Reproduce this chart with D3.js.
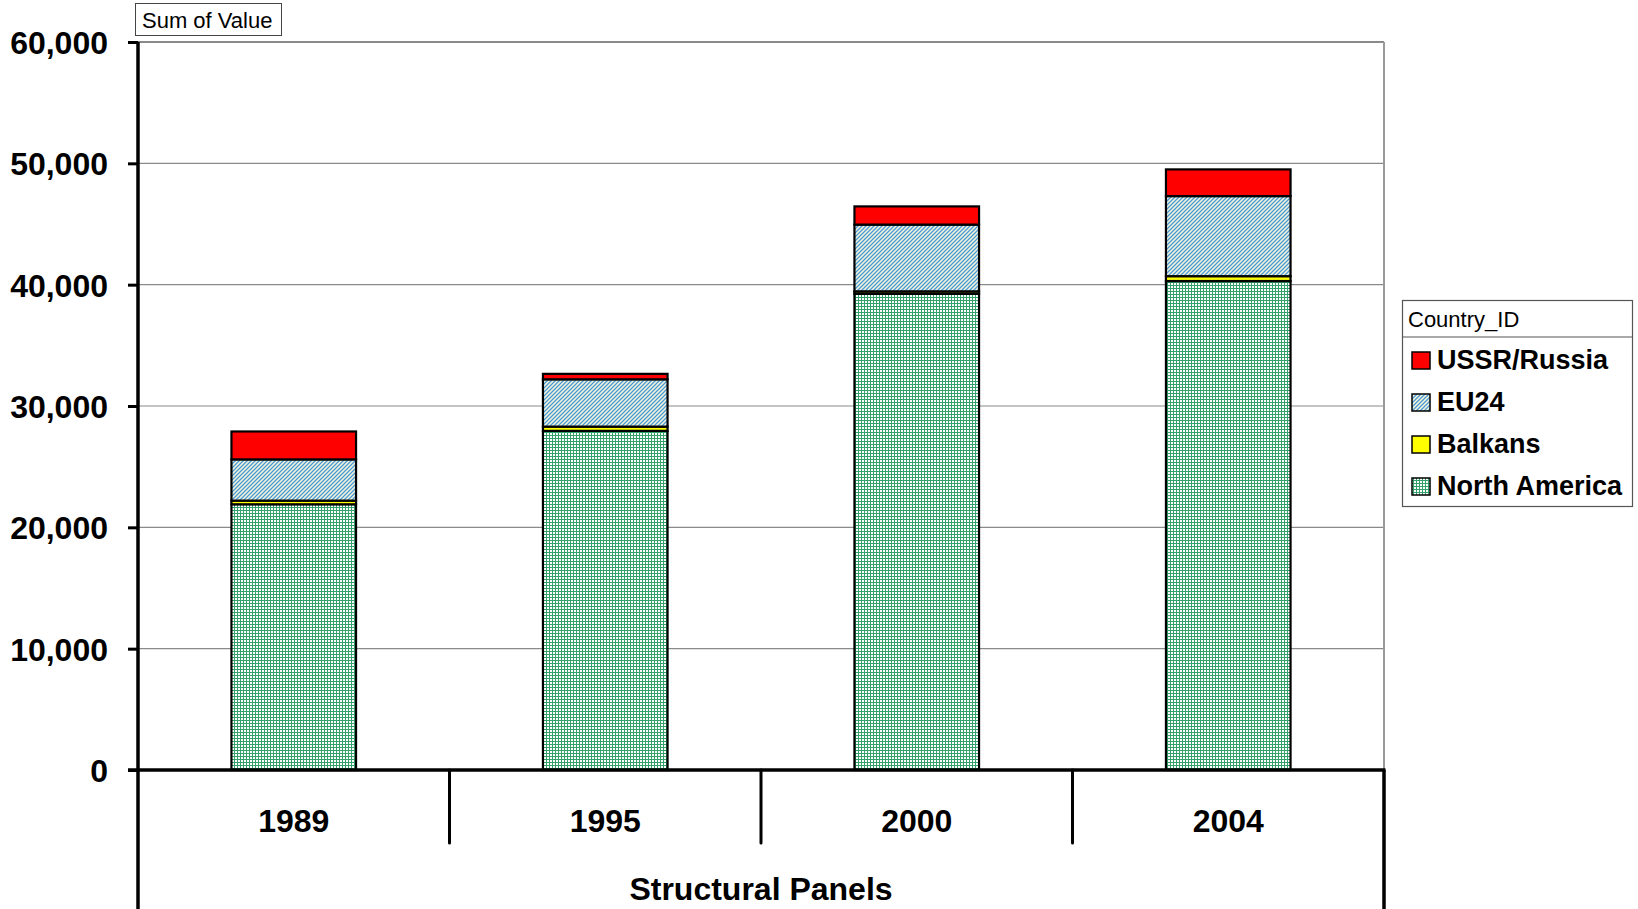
<!DOCTYPE html>
<html>
<head>
<meta charset="utf-8">
<script src="https://cdn.jsdelivr.net/npm/d3@7"></script>
<style>
  html, body { margin: 0; padding: 0; background: #fff; }
  svg { display: block; font-family: "Liberation Sans", Arial, sans-serif; }
</style>
</head>
<body>
<svg id="chart" width="1638" height="909"></svg>
<script>
// Structural panels by year, stacked by Country_ID
const years = ["1989", "1995", "2000", "2004"];
const northAmerica = [21900, 27950, 39250, 40300];
const balkans = [300, 350, 200, 400];
const eu24 = [3400, 3900, 5500, 6600];
const ussrRussia = [2300, 450, 1500, 2200];
const seriesNames = ["North America", "Balkans", "EU24", "USSR/Russia"];
const yTicks = [0, 10000, 20000, 30000, 40000, 50000, 60000];

const rows = years.map((y, i) => ({
  year: y,
  "North America": northAmerica[i],
  "Balkans": balkans[i],
  "EU24": eu24[i],
  "USSR/Russia": ussrRussia[i]
}));

const svg = d3.select("#chart");
const plotLeft = 138, plotRight = 1384, plotTop = 42, plotBottom = 770;

// Fill patterns
const defs = svg.append("defs");
const grid = defs.append("pattern").attr("id", "pat-na")
  .attr("patternUnits", "userSpaceOnUse").attr("width", 3).attr("height", 3);
grid.append("rect").attr("width", 3).attr("height", 3).attr("fill", "#ffffff");
grid.append("rect").attr("x", 0).attr("y", 0).attr("width", 3).attr("height", 1).attr("fill", "#34a06a");
grid.append("rect").attr("x", 0).attr("y", 0).attr("width", 1).attr("height", 3).attr("fill", "#34a06a");

const diag = defs.append("pattern").attr("id", "pat-eu")
  .attr("patternUnits", "userSpaceOnUse").attr("width", 4).attr("height", 4);
diag.append("rect").attr("width", 4).attr("height", 4).attr("fill", "#f6f6dc");
diag.append("path").attr("d", "M-1,1 L1,-1 M0,4 L4,0 M3,5 L5,3")
  .attr("stroke", "#4b9ad6").attr("stroke-width", 1.3);

const fills = {
  "North America": "url(#pat-na)",
  "Balkans": "#ffff00",
  "EU24": "url(#pat-eu)",
  "USSR/Russia": "#ff0000"
};

const x = d3.scaleBand().domain(years).range([plotLeft, plotRight])
  .paddingInner(0.6).paddingOuter(0.3);
const y = d3.scaleLinear().domain([0, 60000]).range([plotBottom, plotTop]);

// Gridlines
svg.append("g").selectAll("line").data(yTicks.filter(t => t > 0)).join("line")
  .attr("x1", plotLeft).attr("x2", plotRight)
  .attr("y1", d => y(d)).attr("y2", d => y(d))
  .attr("stroke", "#8a8a8a").attr("stroke-width", 1.2);

// Plot border (top/right)
svg.append("line").attr("x1", plotLeft).attr("x2", plotRight).attr("y1", plotTop).attr("y2", plotTop)
  .attr("stroke", "#8a8a8a").attr("stroke-width", 2);
svg.append("line").attr("x1", plotRight).attr("x2", plotRight).attr("y1", plotTop).attr("y2", plotBottom)
  .attr("stroke", "#9a9a9a").attr("stroke-width", 2);

// Stacked bars
const stacked = d3.stack().keys(seriesNames)(rows);
svg.append("g").selectAll("g").data(stacked).join("g")
  .attr("fill", d => fills[d.key])
  .selectAll("rect").data(d => d).join("rect")
  .attr("x", d => x(d.data.year))
  .attr("width", x.bandwidth())
  .attr("y", d => y(d[1]))
  .attr("height", d => y(d[0]) - y(d[1]))
  .attr("stroke", "#000").attr("stroke-width", 2.2);

// Y axis
const yAxis = svg.append("g").attr("transform", `translate(${plotLeft},0)`)
  .call(d3.axisLeft(y).tickValues(yTicks).tickSize(10).tickPadding(20)
    .tickFormat(d3.format(",")));
yAxis.select(".domain").remove();
yAxis.selectAll(".tick line").attr("stroke", "#000").attr("stroke-width", 3);
yAxis.selectAll(".tick text").attr("font-size", 32).attr("font-weight", "bold")
  .attr("fill", "#000").attr("font-family", "'Liberation Sans', Arial, sans-serif")
  .attr("dy", "0.36em");

// Axis frame lines
svg.append("line").attr("x1", plotLeft).attr("x2", plotLeft).attr("y1", plotTop).attr("y2", 909)
  .attr("stroke", "#000").attr("stroke-width", 3.5);
svg.append("line").attr("x1", plotLeft - 10).attr("x2", plotRight + 1.5).attr("y1", plotBottom).attr("y2", plotBottom)
  .attr("stroke", "#000").attr("stroke-width", 3.5);
svg.append("line").attr("x1", plotRight).attr("x2", plotRight).attr("y1", plotBottom).attr("y2", 909)
  .attr("stroke", "#000").attr("stroke-width", 3.5);

// Category dividers
const step = x.step();
const dividers = d3.range(1, years.length).map(i => plotLeft + i * step);
svg.append("g").selectAll("line").data(dividers).join("line")
  .attr("x1", d => d).attr("x2", d => d)
  .attr("y1", plotBottom).attr("y2", 843)
  .attr("stroke", "#000").attr("stroke-width", 3).attr("stroke-linecap", "round");

// Category labels
svg.append("g").selectAll("text").data(years).join("text")
  .attr("x", d => x(d) + x.bandwidth() / 2)
  .attr("y", 832)
  .attr("text-anchor", "middle")
  .attr("font-size", 32).attr("font-weight", "bold")
  .text(d => d);

// Axis title
svg.append("text").attr("x", (plotLeft + plotRight) / 2).attr("y", 900)
  .attr("text-anchor", "middle").attr("font-size", 32).attr("font-weight", "bold")
  .text("Structural Panels");

// Data field button
svg.append("rect").attr("x", 135.5).attr("y", 3.5).attr("width", 146).attr("height", 32)
  .attr("fill", "#fff").attr("stroke", "#444").attr("stroke-width", 1);
svg.append("text").attr("x", 142).attr("y", 28).attr("font-size", 22)
  .text("Sum of Value");

// Legend
const lg = svg.append("g");
lg.append("rect").attr("x", 1402.5).attr("y", 300.5).attr("width", 230).attr("height", 206)
  .attr("fill", "#fff").attr("stroke", "#555").attr("stroke-width", 1.2);
lg.append("line").attr("x1", 1402.5).attr("x2", 1632.5).attr("y1", 337).attr("y2", 337)
  .attr("stroke", "#555").attr("stroke-width", 1.2);
lg.append("text").attr("x", 1408).attr("y", 327).attr("font-size", 22).text("Country_ID");

const legendOrder = seriesNames.slice().reverse();
const items = lg.selectAll("g.item").data(legendOrder).join("g").attr("class", "item")
  .attr("transform", (d, i) => `translate(0,${369 + i * 42})`);
items.append("rect").attr("x", 1412).attr("y", -17).attr("width", 18).attr("height", 17)
  .attr("fill", d => fills[d]).attr("stroke", "#000").attr("stroke-width", 1.5);
items.append("text").attr("x", 1437).attr("y", 0)
  .attr("font-size", 27).attr("font-weight", "bold").text(d => d);
</script>
</body>
</html>
